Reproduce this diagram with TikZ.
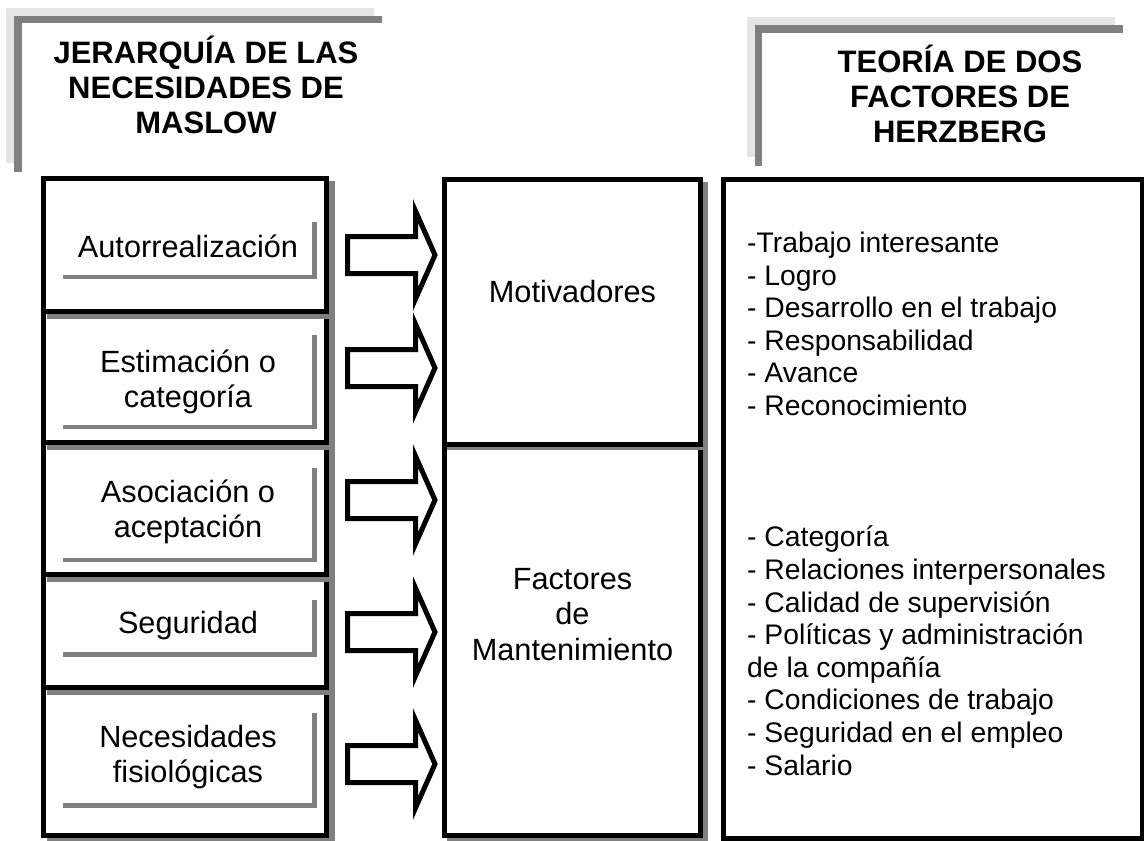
\documentclass[tikz,border=0pt]{standalone}
\usepackage{fontspec}
\setmainfont{Liberation Sans}
\definecolor{shadowgray}{RGB}{128,128,128}
\definecolor{paleband}{RGB}{229,229,229}
\definecolor{darkband}{RGB}{128,128,128}
\tikzstyle{boxframe}=[draw=black,line width=5pt,fill=white]
\tikzstyle{boxshadow}=[fill=shadowgray]
\tikzstyle{innerframe}=[draw=shadowgray,line width=4.5pt]
\tikzstyle{titletext}=[align=center,font=\bfseries\fontsize{31}{35}\selectfont,inner sep=0pt,anchor=base]
\tikzstyle{needtext}=[align=center,font=\fontsize{30.7}{35.5}\selectfont,inner sep=0pt,anchor=base]
\tikzstyle{listtext}=[align=left,font=\fontsize{28.3}{32.6}\selectfont,inner sep=0pt,anchor=base west]
\tikzstyle{blockarrow}=[draw=black,line width=5pt,fill=white,miter limit=10]

\begin{document}
\begin{tikzpicture}[x=1pt,y=-1pt]
\useasboundingbox (0,0) rectangle (1144,841);
% title frames
\draw[paleband,line width=8pt] (10,163) -- (10,12) -- (374,12);
\draw[darkband,line width=7.5pt] (18,172) -- (18,19.5) -- (382,19.5);
\draw[paleband,line width=8pt] (751,157) -- (751,21) -- (1115,21);
\draw[darkband,line width=7.5pt] (758.5,166) -- (758.5,29) -- (1123,29);
% (base of a multi-line node = baseline of its last line)
\node[titletext] (maslow) at (206,133) {JERARQUÍA DE LAS\\NECESIDADES DE\\MASLOW};
\node[titletext] (herzberg) at (960,142) {TEORÍA DE DOS\\FACTORES DE\\HERZBERG};
% Maslow boxes, drawn from the bottom up
\foreach \top/\bot in {687.5/835.5,574.5/687.5,442.5/574.5,311/442.5,178.5/311}
{
    \fill[boxshadow] (46.5,\top+2.5) rectangle (335,\bot+7.5);
    \draw[boxframe] (43,\top) rectangle (326.5,\bot);
}
\foreach \yt/\yb in {222/277,335/427,468/560,600/654.5,713/805.5}
    \draw[innerframe] (63,\yb) -- (314.5,\yb) -- (314.5,\yt);
\node[needtext] (selfreal) at (188,257) {Autorrealización};
\node[needtext] (esteem) at (188,407.5) {Estimación o\\categoría};
\node[needtext] (social) at (188,537.5) {Asociación o\\aceptación};
\node[needtext] (safety) at (188,633) {Seguridad};
\node[needtext] (physio) at (188,782.5) {Necesidades\\fisiológicas};
% block arrows
\foreach \c in {255,368,500,632,764}
    \draw[blockarrow] (347.5,\c-18.5) -- (415.5,\c-18.5) -- (415.5,\c-44) -- (435,\c)
        -- (415.5,\c+44) -- (415.5,\c+18.5) -- (347.5,\c+18.5) -- cycle;
% Herzberg factors
\fill[boxshadow] (447,446.5) rectangle (708,843);
\draw[boxframe] (444.5,444) rectangle (700,835.5);
\fill[boxshadow] (447,181.5) rectangle (708,449.5);
\draw[boxframe] (444.5,179) rectangle (700,444);
\node[needtext] (motiv) at (572.5,302) {Motivadores};
\node[needtext] (maint) at (572.5,660) {Factores\\de\\Mantenimiento};
% lists
\fill[boxshadow] (726,182) rectangle (1151,846);
\draw[boxframe] (723.5,179.5) rectangle (1142.5,838.5);
\node[listtext] (motivlist) at (747,415.5) {-Trabajo interesante\\- Logro\\- Desarrollo en el trabajo\\- Responsabilidad\\- Avance\\- Reconocimiento};
\node[listtext] (maintlist) at (747,775) {- Categoría\\- Relaciones interpersonales\\- Calidad de supervisión\\- Políticas y administración\\de la compañía\\- Condiciones de trabajo\\- Seguridad en el empleo\\- Salario};
\end{tikzpicture}
\end{document}
